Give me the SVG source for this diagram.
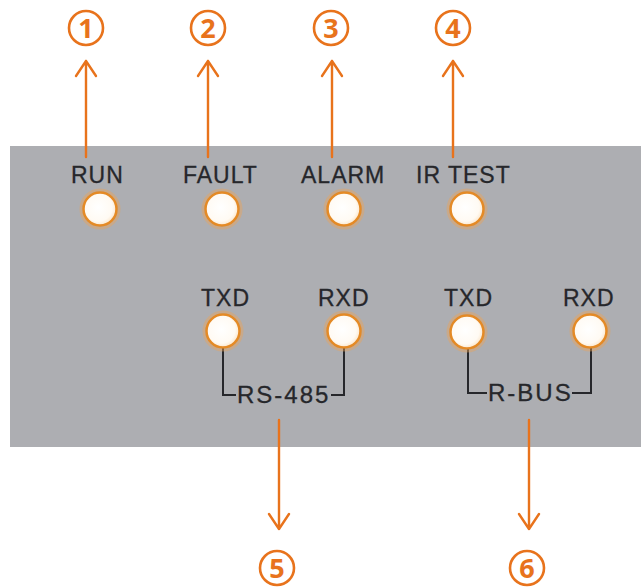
<svg xmlns="http://www.w3.org/2000/svg" width="641" height="588" viewBox="0 0 641 588">
<defs>
<style>
.lbl{font-family:"Liberation Sans",Arial,sans-serif;font-size:23px;fill:#26272b;letter-spacing:1px;stroke:#26272b;stroke-width:0.3}
.bus{font-size:24px;letter-spacing:2px}
.num{font-family:"Open Sans","Liberation Sans",sans-serif;font-weight:bold;font-size:27px;fill:#e8731c;text-anchor:middle}
.ring{fill:none;stroke:#e8731c;stroke-width:2.6}
.arr{fill:none;stroke:#e8731c;stroke-width:2.4;stroke-linecap:round;stroke-linejoin:round}
.brk{fill:none;stroke:#26272b;stroke-width:2}
.led{fill:url(#ledg);stroke:#e48a26;stroke-width:2.5}
.glow{fill:none;stroke:#e9a55a;stroke-width:3;opacity:0.45}
</style>
<radialGradient id="ledg" cx="0.45" cy="0.45" r="0.6">
<stop offset="0" stop-color="#ffffff"/>
<stop offset="0.7" stop-color="#fffaf3"/>
<stop offset="1" stop-color="#fbe0bd"/>
</radialGradient>
</defs>
<rect id="panel" x="10" y="146" width="631" height="301" fill="#adaeb2"/>
<g id="connectors">
<path class="arr" d="M86 157V61M76 76L86 61L96 76"/>
<path class="arr" d="M208 157V61M198 76L208 61L218 76"/>
<path class="arr" d="M332 157V61M322 76L332 61L342 76"/>
<path class="arr" d="M453 157V61M443 76L453 61L463 76"/>
<path class="arr" d="M279 420V529M269 514L279 529L289 514"/>
<path class="arr" d="M529 420V529M519 514L529 529L539 514"/>
<path class="brk" d="M223 348V395H236"/>
<path class="brk" d="M331 395H344V348"/>
<path class="brk" d="M468 349V393H487"/>
<path class="brk" d="M572 393H591V348"/>
</g>
<g id="n1"><circle class="ring" cx="86" cy="28" r="17"/><text class="num" x="86" y="38">1</text></g>
<g id="n2"><circle class="ring" cx="208" cy="28" r="17"/><text class="num" x="208" y="38">2</text></g>
<g id="n3"><circle class="ring" cx="331" cy="28" r="17"/><text class="num" x="331" y="38">3</text></g>
<g id="n4"><circle class="ring" cx="453" cy="28" r="17"/><text class="num" x="453" y="38">4</text></g>
<g id="n5"><circle class="ring" cx="277" cy="568" r="17"/><text class="num" x="277" y="578">5</text></g>
<g id="n6"><circle class="ring" cx="527" cy="568" r="17"/><text class="num" x="527" y="578">6</text></g>
<g id="run"><text class="lbl" x="71" y="183">RUN</text><circle class="glow" cx="100" cy="209" r="19"/><circle class="led" cx="100" cy="209" r="16.5"/></g>
<g id="fault"><text class="lbl" x="183" y="183">FAULT</text><circle class="glow" cx="222" cy="209" r="19"/><circle class="led" cx="222" cy="209" r="16.5"/></g>
<g id="alarm"><text class="lbl" x="301" y="183">ALARM</text><circle class="glow" cx="344" cy="209" r="19"/><circle class="led" cx="344" cy="209" r="16.5"/></g>
<g id="irtest"><text class="lbl" x="416" y="183">IR TEST</text><circle class="glow" cx="467" cy="209" r="19"/><circle class="led" cx="467" cy="209" r="16.5"/></g>
<g id="txd1"><text class="lbl" x="201" y="306">TXD</text><circle class="glow" cx="223" cy="331" r="19"/><circle class="led" cx="223" cy="331" r="16.5"/></g>
<g id="rxd1"><text class="lbl" x="318" y="306">RXD</text><circle class="glow" cx="344" cy="331" r="19"/><circle class="led" cx="344" cy="331" r="16.5"/></g>
<g id="txd2"><text class="lbl" x="444" y="306">TXD</text><circle class="glow" cx="467" cy="332" r="19"/><circle class="led" cx="467" cy="332" r="16.5"/></g>
<g id="rxd2"><text class="lbl" x="563" y="306">RXD</text><circle class="glow" cx="590" cy="331" r="19"/><circle class="led" cx="590" cy="331" r="16.5"/></g>
<g id="rs485"><text class="lbl bus" x="237" y="403">RS-485</text></g>
<g id="rbus"><text class="lbl bus" x="488" y="401">R-BUS</text></g>
</svg>
